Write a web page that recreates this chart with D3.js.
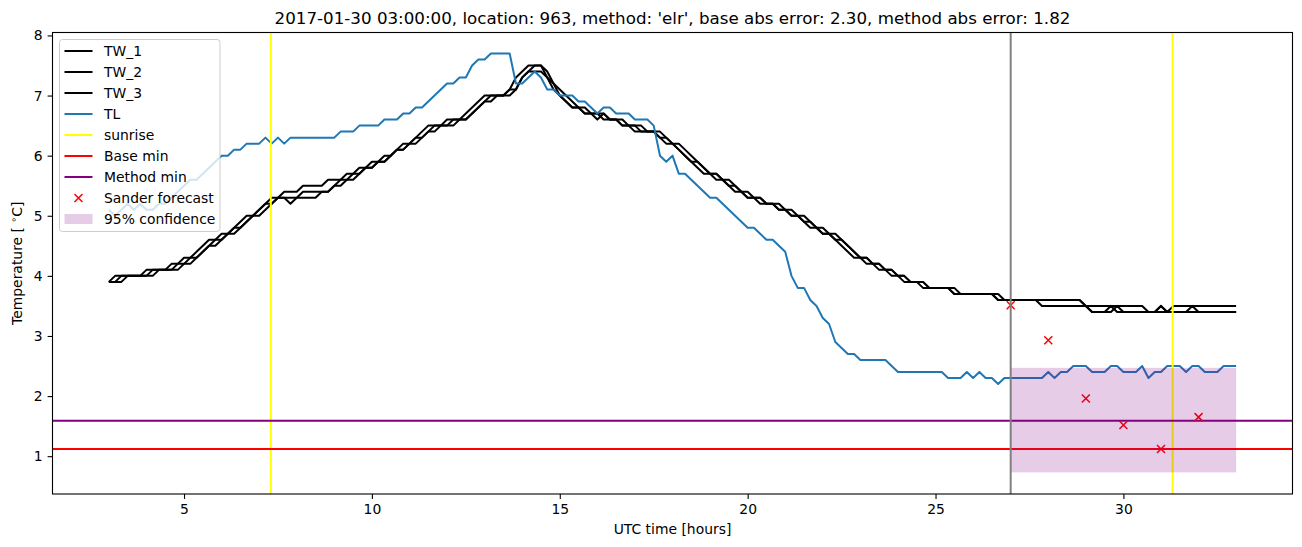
<!DOCTYPE html>
<html>
<head>
<meta charset="utf-8">
<script src="https://cdn.jsdelivr.net/npm/d3@7"></script>
<style>
  body { margin: 0; background: #fff; }
  svg { font-family: "DejaVu Sans", sans-serif; }
</style>
</head>
<body>
<div id="chart"></div>
<script>
// 10 minute samples from 03:00 to 33:00 (UTC hours since day start)
const hours = d3.range(181).map(i => 3 + i / 6);

const tw1 = [
  3.9, 3.9, 4.0, 4.0, 4.0, 4.0, 4.1, 4.1, 4.1, 4.1, 4.2, 4.2,
  4.3, 4.3, 4.4, 4.5, 4.6, 4.6, 4.7, 4.7, 4.8, 4.9, 5.0, 5.0,
  5.1, 5.2, 5.3, 5.3, 5.4, 5.4, 5.4, 5.5, 5.5, 5.5, 5.5, 5.6,
  5.6, 5.6, 5.7, 5.7, 5.8, 5.8, 5.9, 5.9, 6.0, 6.0, 6.1, 6.2,
  6.2, 6.3, 6.4, 6.5, 6.5, 6.5, 6.6, 6.6, 6.6, 6.7, 6.8, 6.9,
  7.0, 7.0, 7.0, 7.0, 7.1, 7.3, 7.4, 7.5, 7.5, 7.5, 7.3, 7.2,
  7.0, 6.9, 6.8, 6.8, 6.7, 6.7, 6.7, 6.6, 6.6, 6.6, 6.5, 6.5,
  6.4, 6.4, 6.4, 6.4, 6.3, 6.2, 6.2, 6.1, 6.0, 5.9, 5.8, 5.7,
  5.7, 5.6, 5.6, 5.5, 5.4, 5.4, 5.3, 5.3, 5.2, 5.2, 5.2, 5.1,
  5.1, 5.0, 5.0, 4.9, 4.8, 4.8, 4.7, 4.7, 4.6, 4.5, 4.4, 4.3,
  4.3, 4.2, 4.2, 4.1, 4.1, 4.0, 4.0, 3.9, 3.9, 3.9, 3.8, 3.8,
  3.8, 3.8, 3.8, 3.7, 3.7, 3.7, 3.7, 3.7, 3.7, 3.7, 3.6, 3.6,
  3.6, 3.6, 3.6, 3.6, 3.6, 3.6, 3.6, 3.6, 3.6, 3.6, 3.6, 3.6,
  3.5, 3.4, 3.4, 3.4, 3.4, 3.5, 3.4, 3.4, 3.4, 3.4, 3.4, 3.4,
  3.4, 3.4, 3.4, 3.4, 3.4, 3.5, 3.4, 3.4, 3.4, 3.4, 3.4, 3.4, 3.4
];

const tw2 = [
  3.9, 3.9, 3.9, 4.0, 4.0, 4.0, 4.0, 4.1, 4.1, 4.1, 4.1, 4.2,
  4.2, 4.3, 4.3, 4.4, 4.5, 4.6, 4.6, 4.7, 4.7, 4.8, 4.9, 5.0,
  5.0, 5.1, 5.2, 5.3, 5.3, 5.2, 5.3, 5.4, 5.4, 5.4, 5.4, 5.4,
  5.5, 5.6, 5.6, 5.7, 5.7, 5.8, 5.8, 5.9, 5.9, 6.0, 6.1, 6.1,
  6.2, 6.2, 6.3, 6.4, 6.5, 6.5, 6.5, 6.5, 6.6, 6.6, 6.7, 6.8,
  6.9, 7.0, 7.0, 7.0, 7.0, 7.1, 7.3, 7.4, 7.5, 7.5, 7.4, 7.2,
  7.1, 7.0, 6.9, 6.8, 6.8, 6.7, 6.6, 6.7, 6.6, 6.6, 6.6, 6.5,
  6.5, 6.5, 6.4, 6.4, 6.4, 6.3, 6.2, 6.2, 6.1, 6.0, 5.9, 5.8,
  5.7, 5.7, 5.6, 5.6, 5.5, 5.4, 5.4, 5.3, 5.3, 5.2, 5.2, 5.2,
  5.1, 5.1, 5.0, 5.0, 4.9, 4.8, 4.8, 4.7, 4.7, 4.6, 4.5, 4.4,
  4.3, 4.3, 4.2, 4.2, 4.1, 4.1, 4.0, 4.0, 3.9, 3.9, 3.9, 3.8,
  3.8, 3.8, 3.8, 3.8, 3.7, 3.7, 3.7, 3.7, 3.7, 3.7, 3.7, 3.6,
  3.6, 3.6, 3.6, 3.6, 3.6, 3.6, 3.6, 3.6, 3.6, 3.6, 3.6, 3.6,
  3.5, 3.5, 3.5, 3.5, 3.5, 3.5, 3.5, 3.5, 3.5, 3.5, 3.4, 3.4,
  3.5, 3.4, 3.5, 3.5, 3.5, 3.5, 3.5, 3.5, 3.5, 3.5, 3.5, 3.5, 3.5
];

const tw3 = [
  3.9, 4.0, 4.0, 4.0, 4.0, 4.0, 4.0, 4.0, 4.1, 4.1, 4.1, 4.1,
  4.2, 4.2, 4.3, 4.4, 4.5, 4.5, 4.6, 4.7, 4.8, 4.8, 4.9, 5.0,
  5.1, 5.2, 5.2, 5.3, 5.3, 5.3, 5.3, 5.3, 5.3, 5.3, 5.4, 5.4,
  5.5, 5.5, 5.6, 5.6, 5.7, 5.8, 5.8, 5.9, 5.9, 6.0, 6.1, 6.1,
  6.2, 6.3, 6.3, 6.4, 6.4, 6.5, 6.5, 6.6, 6.6, 6.6, 6.7, 6.8,
  6.9, 6.9, 7.0, 7.0, 7.1, 7.1, 7.3, 7.4, 7.4, 7.4, 7.3, 7.1,
  7.0, 6.9, 6.8, 6.8, 6.7, 6.7, 6.7, 6.7, 6.6, 6.6, 6.5, 6.5,
  6.5, 6.4, 6.4, 6.4, 6.3, 6.3, 6.2, 6.1, 6.0, 5.9, 5.9, 5.8,
  5.7, 5.7, 5.6, 5.5, 5.5, 5.4, 5.3, 5.3, 5.3, 5.2, 5.2, 5.1,
  5.1, 5.0, 5.0, 4.9, 4.9, 4.8, 4.7, 4.7, 4.6, 4.6, 4.5, 4.4,
  4.3, 4.3, 4.2, 4.2, 4.1, 4.1, 4.0, 4.0, 3.9, 3.9, 3.9, 3.8,
  3.8, 3.8, 3.8, 3.7, 3.7, 3.7, 3.7, 3.7, 3.7, 3.7, 3.6, 3.6,
  3.6, 3.6, 3.6, 3.6, 3.6, 3.5, 3.5, 3.5, 3.5, 3.5, 3.5, 3.5,
  3.5, 3.4, 3.4, 3.4, 3.5, 3.4, 3.4, 3.4, 3.4, 3.4, 3.4, 3.4,
  3.5, 3.4, 3.4, 3.4, 3.4, 3.4, 3.4, 3.4, 3.4, 3.4, 3.4, 3.4, 3.4
];

const tl = [
  5.1, 5.0, 5.1, 5.2, 5.1, 5.2, 5.1, 5.1, 5.2, 5.2, 5.3, 5.4,
  5.5, 5.6, 5.6, 5.7, 5.8, 5.9, 6.0, 6.0, 6.1, 6.1, 6.2, 6.2,
  6.2, 6.3, 6.2, 6.3, 6.2, 6.3, 6.3, 6.3, 6.3, 6.3, 6.3, 6.3,
  6.3, 6.4, 6.4, 6.4, 6.5, 6.5, 6.5, 6.5, 6.6, 6.6, 6.6, 6.7,
  6.7, 6.8, 6.8, 6.9, 7.0, 7.1, 7.2, 7.2, 7.3, 7.3, 7.5, 7.6,
  7.6, 7.7, 7.7, 7.7, 7.7, 7.2, 7.2, 7.3, 7.4, 7.3, 7.1, 7.1,
  7.0, 7.0, 7.0, 6.9, 6.9, 6.8, 6.7, 6.8, 6.8, 6.7, 6.7, 6.7,
  6.6, 6.6, 6.6, 6.5, 6.0, 5.9, 6.0, 5.7, 5.7, 5.6, 5.5, 5.4,
  5.3, 5.3, 5.2, 5.1, 5.0, 4.9, 4.8, 4.8, 4.7, 4.6, 4.6, 4.5,
  4.4, 4.0, 3.8, 3.8, 3.6, 3.5, 3.3, 3.2, 2.9, 2.8, 2.7, 2.7,
  2.6, 2.6, 2.6, 2.6, 2.6, 2.5, 2.4, 2.4, 2.4, 2.4, 2.4, 2.4,
  2.4, 2.4, 2.3, 2.3, 2.3, 2.4, 2.3, 2.4, 2.3, 2.3, 2.2, 2.3,
  2.3, 2.3, 2.3, 2.3, 2.3, 2.3, 2.4, 2.3, 2.4, 2.4, 2.5, 2.5,
  2.5, 2.4, 2.4, 2.4, 2.5, 2.5, 2.4, 2.4, 2.4, 2.5, 2.3, 2.4,
  2.4, 2.5, 2.5, 2.5, 2.4, 2.5, 2.5, 2.4, 2.4, 2.4, 2.5, 2.5, 2.5
];

const sunrise = [7.31, 31.31];
const forecastStart = 27;
const baseMin = 1.12;
const methodMin = 1.59;

const forecastHours = [27, 28, 29, 30, 31, 32];
const forecastValues = [3.51, 2.93, 1.96, 1.52, 1.12, 1.65];

const confHours = [27, 33];
const confLow = 0.73;
const confHigh = 2.47;

const xTicks = [5, 10, 15, 20, 25, 30];
const yTicks = [1, 2, 3, 4, 5, 6, 7, 8];

const title = "2017-01-30 03:00:00, location: 963, method: 'elr', base abs error: 2.30, method abs error: 1.82";

const width = 1302, height = 547;
const margin = { left: 52.5, right: 9.5, top: 32.5, bottom: 53 };

const svg = d3.select("#chart").append("svg")
  .attr("width", width)
  .attr("height", height);

const x = d3.scaleLinear().domain([1.5, 34.5]).range([margin.left, width - margin.right]);
const y = d3.scaleLinear().domain([0.371, 8.049]).range([height - margin.bottom, margin.top]);

svg.append("defs").append("clipPath").attr("id", "clip")
  .append("rect")
  .attr("x", margin.left).attr("y", margin.top)
  .attr("width", x.range()[1] - x.range()[0])
  .attr("height", y.range()[0] - y.range()[1]);

const plot = svg.append("g").attr("clip-path", "url(#clip)");

const line = d3.line().x(d => x(d[0])).y(d => y(d[1]));

[tw1, tw2, tw3].forEach(s => {
  plot.append("path")
    .datum(hours.map((h, i) => [h, s[i]]))
    .attr("d", line)
    .attr("fill", "none")
    .attr("stroke", "#000")
    .attr("stroke-width", 2)
    .attr("stroke-linejoin", "round");
});

plot.append("path")
  .datum(hours.map((h, i) => [h, tl[i]]))
  .attr("d", line)
  .attr("fill", "none")
  .attr("stroke", "#1f77b4")
  .attr("stroke-width", 2)
  .attr("stroke-linejoin", "round");

sunrise.forEach(h => {
  plot.append("line")
    .attr("x1", x(h)).attr("x2", x(h))
    .attr("y1", margin.top).attr("y2", height - margin.bottom)
    .attr("stroke", "#ffff00").attr("stroke-width", 2);
});

plot.append("line")
  .attr("x1", margin.left).attr("x2", width - margin.right)
  .attr("y1", y(baseMin)).attr("y2", y(baseMin))
  .attr("stroke", "#ff0000").attr("stroke-width", 2);

plot.append("line")
  .attr("x1", margin.left).attr("x2", width - margin.right)
  .attr("y1", y(methodMin)).attr("y2", y(methodMin))
  .attr("stroke", "#800080").attr("stroke-width", 2);

const cross = d3.symbol().type(d3.symbolX).size(40);
plot.selectAll(".fc")
  .data(forecastHours.map((h, i) => [h, forecastValues[i]]))
  .enter().append("path")
  .attr("class", "fc")
  .attr("transform", d => `translate(${x(d[0])},${y(d[1])})`)
  .attr("d", d3.symbol().type(d3.symbolCross).size(0))
  .attr("d", "M-4,-4L4,4M-4,4L4,-4")
  .attr("stroke", "#ff0000")
  .attr("stroke-width", 1.5)
  .attr("fill", "none");

plot.append("rect")
  .attr("x", x(confHours[0]))
  .attr("width", x(confHours[1]) - x(confHours[0]))
  .attr("y", y(confHigh))
  .attr("height", y(confLow) - y(confHigh))
  .attr("fill", "#800080")
  .attr("fill-opacity", 0.2);

plot.append("line")
  .attr("x1", x(forecastStart)).attr("x2", x(forecastStart))
  .attr("y1", margin.top).attr("y2", height - margin.bottom)
  .attr("stroke", "#808080").attr("stroke-width", 2);

// axes
const xAxis = d3.axisBottom(x).tickValues(xTicks).tickSize(4.9).tickPadding(4.9).tickSizeOuter(0);
const yAxis = d3.axisLeft(y).tickValues(yTicks).tickSize(4.9).tickPadding(4.9).tickSizeOuter(0);

const gx = svg.append("g").attr("transform", `translate(0,${height - margin.bottom})`).call(xAxis);
const gy = svg.append("g").attr("transform", `translate(${margin.left},0)`).call(yAxis);
[gx, gy].forEach(g => {
  g.select(".domain").remove();
  g.selectAll("text").attr("font-size", "13.9px").attr("font-family", "DejaVu Sans").attr("fill", "#000");
  g.selectAll("line").attr("stroke", "#000").attr("stroke-width", 1.1);
});

svg.append("rect")
  .attr("x", margin.left).attr("y", margin.top)
  .attr("width", x.range()[1] - x.range()[0])
  .attr("height", y.range()[0] - y.range()[1])
  .attr("fill", "none").attr("stroke", "#000").attr("stroke-width", 1.1);

svg.append("text")
  .attr("x", (x.range()[0] + x.range()[1]) / 2)
  .attr("y", 24)
  .attr("text-anchor", "middle")
  .attr("font-size", "16.7px")
  .text(title);

svg.append("text")
  .attr("x", (x.range()[0] + x.range()[1]) / 2)
  .attr("y", 534)
  .attr("text-anchor", "middle")
  .attr("font-size", "13.9px")
  .text("UTC time [hours]");

const ylab = svg.append("text")
  .attr("transform", `translate(22,${(y.range()[0] + y.range()[1]) / 2}) rotate(-90)`)
  .attr("text-anchor", "middle")
  .attr("font-size", "13.9px");
ylab.append("tspan").text("Temperature [ ");
ylab.append("tspan").attr("font-size", "9.5px").attr("dy", -5).text("\u2218");
ylab.append("tspan").attr("dy", 5).text("C]");

// legend
const legendItems = [
  { label: "TW_1", type: "line", color: "#000" },
  { label: "TW_2", type: "line", color: "#000" },
  { label: "TW_3", type: "line", color: "#000" },
  { label: "TL", type: "line", color: "#1f77b4" },
  { label: "sunrise", type: "line", color: "#ffff00" },
  { label: "Base min", type: "line", color: "#ff0000" },
  { label: "Method min", type: "line", color: "#800080" },
  { label: "Sander forecast", type: "marker", color: "#ff0000" },
  { label: "95% confidence", type: "patch", color: "#800080" }
];

const lg = svg.append("g").attr("transform", "translate(59.5,39.5)");
lg.append("rect")
  .attr("width", 160.5).attr("height", 192)
  .attr("rx", 3).attr("ry", 3)
  .attr("fill", "#fff").attr("fill-opacity", 0.8)
  .attr("stroke", "#cccccc").attr("stroke-width", 1);

legendItems.forEach((d, i) => {
  const cy = 11.5 + i * 21;
  const row = lg.append("g").attr("transform", `translate(0,${cy})`);
  if (d.type === "line") {
    row.append("line").attr("x1", 5).attr("x2", 33).attr("y1", 0).attr("y2", 0)
      .attr("stroke", d.color).attr("stroke-width", 2);
  } else if (d.type === "marker") {
    row.append("path").attr("transform", "translate(19,0)")
      .attr("d", "M-4,-4L4,4M-4,4L4,-4")
      .attr("stroke", d.color).attr("stroke-width", 1.5).attr("fill", "none");
  } else {
    row.append("rect").attr("x", 5).attr("y", -5).attr("width", 28).attr("height", 10)
      .attr("fill", d.color).attr("fill-opacity", 0.2);
  }
  row.append("text").attr("x", 44.5).attr("y", 5).attr("font-size", "13.9px").text(d.label);
});
</script>
</body>
</html>
